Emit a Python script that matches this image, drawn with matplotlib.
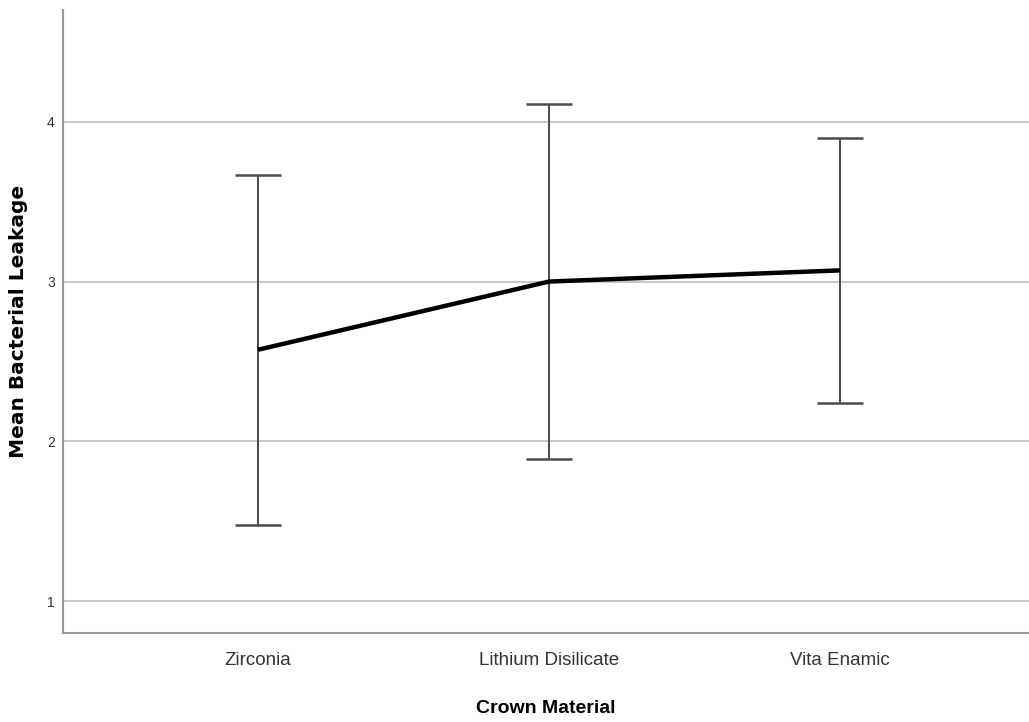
import matplotlib
matplotlib.use("Agg")
import matplotlib.pyplot as plt

categories = ["Zirconia", "Lithium Disilicate", "Vita Enamic"]
means = [2.573, 3.00, 3.07]
upper = [3.667, 4.11, 3.90]
lower = [1.477, 1.89, 2.24]
yticks = [1, 2, 3, 4]

fig = plt.figure(figsize=(10.29, 7.22), dpi=100)
ax = fig.add_axes([63/1029, 89/722, 1 - 63/1029, (633-10)/722])

x = list(range(len(categories)))
yerr = [[m - l for m, l in zip(means, lower)], [u - m for m, u in zip(means, upper)]]
ax.errorbar(x, means, yerr=yerr, fmt="none", ecolor="#4a4a4a", elinewidth=1.4,
            capsize=16.5, capthick=1.8, zorder=3)
ax.plot(x, means, color="black", linewidth=3.2, zorder=4, solid_capstyle="butt")

ax.set_xlim(-0.67, 2.65)
ax.set_ylim(0.80, 4.70)
ax.set_yticks(yticks)
ax.set_xticks(x)
ax.set_xticklabels(categories, family="Liberation Sans", fontsize=13.5, color="#333333")
ax.set_yticklabels([str(t) for t in yticks], family="Liberation Sans", fontsize=10, color="#333333")
ax.tick_params(axis="both", length=0)
ax.tick_params(axis="x", pad=14)
ax.tick_params(axis="y", pad=6)
ax.grid(axis="y", color="#c8c8c8", linewidth=1.4, zorder=0)
ax.set_axisbelow(True)
for s in ["top", "right"]:
    ax.spines[s].set_visible(False)
for s in ["left", "bottom"]:
    ax.spines[s].set_color("#999999")
    ax.spines[s].set_linewidth(1.5)

ax.set_xlabel("Crown Material", family="Liberation Sans", fontsize=14, fontweight="bold", labelpad=22)
ax.set_ylabel("Mean Bacterial Leakage", family="DejaVu Sans", fontsize=14.5,
              fontweight="bold")
ax.yaxis.set_label_coords((28 - 63) / 966, 0.5)

fig.savefig("out.png", dpi=100, facecolor="white")
